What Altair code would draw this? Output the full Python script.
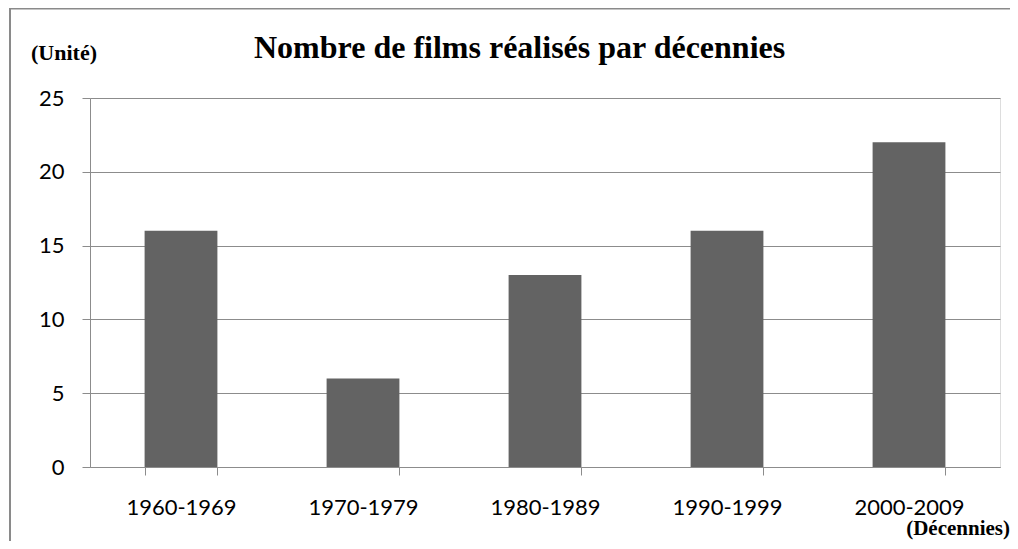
import altair as alt
import pandas as pd

decades = ["1960-1969", "1970-1979", "1980-1989", "1990-1999", "2000-2009"]
films = [16, 6, 13, 16, 22]

title_text = ["Nombre de films réalisés par décennies"]
y_unit = ["(Unité)"]
x_unit = ["(Décennies)"]

df = pd.DataFrame({"decade": decades, "films": films})
one = pd.DataFrame({"t": [0]})

W, H = 910, 369
serif = "Liberation Serif"
sans = "Lato"

bars = alt.Chart(df).mark_bar(color="#636363").encode(
    x=alt.X("decade:N", sort=decades,
            scale=alt.Scale(paddingInner=0.6, paddingOuter=0.3),
            axis=alt.Axis(title=None, labelAngle=0, labelFont=sans, labelFontSize=22,
                          labelColor="black", labelPadding=22, tickSize=8,
                          tickColor="#8c8c8c", domainColor="#8c8c8c", tickBand="extent",
                          grid=False)),
    y=alt.Y("films:Q", scale=alt.Scale(domain=[0, 25]),
            axis=alt.Axis(title=None, values=[0, 5, 10, 15, 20, 25], labelFont=sans,
                          labelFontSize=22, labelColor="black", labelPadding=18,
                          tickSize=8, tickColor="#8c8c8c", domainColor="#8c8c8c",
                          gridColor="#8c8c8c", gridOpacity=1)),
)

frame = alt.Chart(one).mark_rect(fill=None, stroke="#8a8a8a", strokeWidth=2).encode(
    x=alt.value(-80), x2=alt.value(1200), y=alt.value(-89.5), y2=alt.value(700)
)

title = alt.Chart(pd.DataFrame({"t": title_text})).mark_text(
    font=serif, fontSize=32, fontWeight="bold", align="left", baseline="alphabetic",
    color="black"
).encode(text="t:N", x=alt.value(254 - 90), y=alt.value(58 - 98))

yu = alt.Chart(pd.DataFrame({"t": y_unit})).mark_text(
    font=serif, fontSize=22, fontWeight="bold", align="left", baseline="alphabetic",
    color="black"
).encode(text="t:N", x=alt.value(31 - 90), y=alt.value(60 - 98))

xu = alt.Chart(pd.DataFrame({"t": x_unit})).mark_text(
    font=serif, fontSize=21, fontWeight="bold", align="right", baseline="alphabetic",
    color="black"
).encode(text="t:N", x=alt.value(1010 - 90), y=alt.value(535 - 98))

chart = alt.layer(frame, bars, title, yu, xu).properties(
    width=W, height=H,
    autosize=alt.AutoSizeParams(type="none"),
    padding={"left": 82, "top": 90, "right": 10, "bottom": 74},
).configure_view(stroke=None).configure(background="white")

chart.save("out.html", embed_options={"renderer": "svg", "actions": False})
